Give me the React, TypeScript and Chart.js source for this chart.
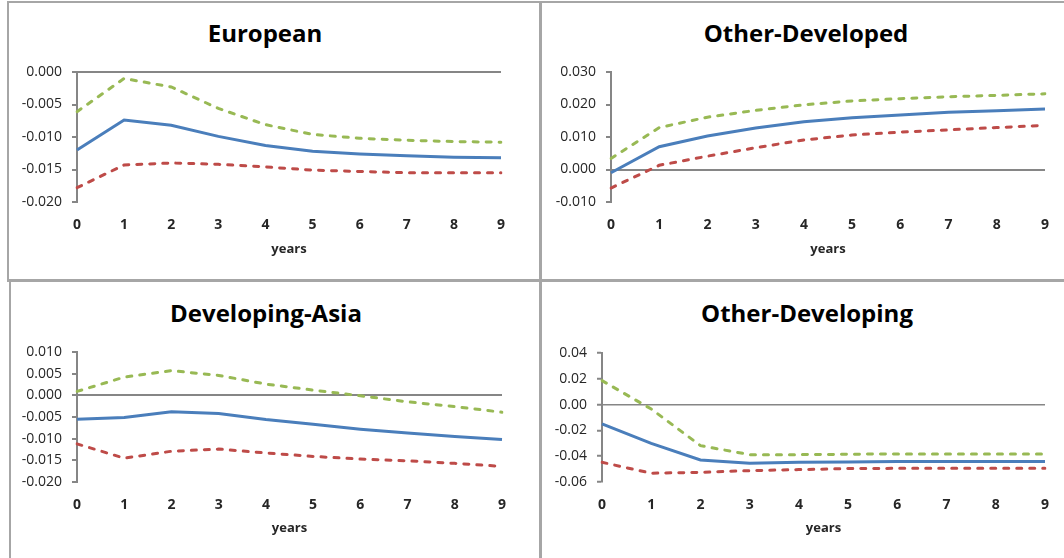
import React, { useEffect, useRef } from "react";
import { Chart, registerables } from "chart.js";

Chart.register(...registerables);

// ---------- data ----------
const years = ["0", "1", "2", "3", "4", "5", "6", "7", "8", "9"];

const europeanMean = [-0.012, -0.0074, -0.0082, -0.0099, -0.0113, -0.0122, -0.0126, -0.0129, -0.0131, -0.0132];
const europeanUpper = [-0.0061, -0.001, -0.0023, -0.0056, -0.0081, -0.0096, -0.0102, -0.0105, -0.0107, -0.0108];
const europeanLower = [-0.0178, -0.0143, -0.014, -0.0142, -0.0146, -0.0151, -0.0153, -0.0155, -0.0155, -0.0155];
const europeanTicks = [-0.02, -0.015, -0.01, -0.005, 0];

const otherDevelopedMean = [-0.001, 0.007, 0.0103, 0.0128, 0.0147, 0.0159, 0.0168, 0.0176, 0.0181, 0.0186];
const otherDevelopedUpper = [0.0034, 0.0129, 0.0161, 0.0182, 0.0199, 0.0211, 0.0218, 0.0224, 0.0228, 0.0233];
const otherDevelopedLower = [-0.0057, 0.0013, 0.0041, 0.0067, 0.0091, 0.0106, 0.0115, 0.0122, 0.0129, 0.0136];
const otherDevelopedTicks = [-0.01, 0, 0.01, 0.02, 0.03];

const developingAsiaMean = [-0.0055, -0.0051, -0.0038, -0.0042, -0.0056, -0.0067, -0.0078, -0.0087, -0.0095, -0.0102];
const developingAsiaUpper = [0.0009, 0.0042, 0.0057, 0.0046, 0.0026, 0.0012, -0.0001, -0.0015, -0.0026, -0.0039];
const developingAsiaLower = [-0.0112, -0.0145, -0.0129, -0.0124, -0.0133, -0.0141, -0.0147, -0.0151, -0.0157, -0.0164];
const developingAsiaTicks = [-0.02, -0.015, -0.01, -0.005, 0, 0.005, 0.01];

const otherDevelopingMean = [-0.015, -0.03, -0.0429, -0.0455, -0.0447, -0.0444, -0.0442, -0.0442, -0.0442, -0.0442];
const otherDevelopingUpper = [0.0186, -0.0034, -0.0318, -0.0388, -0.0388, -0.0385, -0.0382, -0.0382, -0.0382, -0.0382];
const otherDevelopingLower = [-0.0447, -0.0532, -0.0525, -0.0512, -0.0504, -0.0496, -0.0494, -0.0494, -0.0494, -0.0494];
const otherDevelopingTicks = [-0.06, -0.04, -0.02, 0, 0.02, 0.04];

// ---------- styles ----------
const BLUE = "#4A7EBB";
const RED = "#BE4B48";
const GREEN = "#98B954";
const AXIS = "#868686";
const TEXT = "#262626";
const FONT = "'Open Sans', 'Liberation Sans', sans-serif";

type PanelProps = {
  title: string;
  mean: number[];
  upper: number[];
  lower: number[];
  ticks: number[];
  decimals: number;
  left: number;
  top: number;
  width: number;
  height: number;
  padTop: number;
  padR: number;
  yWidth: number;
  xHeight: number;
  xTitleBottom: number;
  zeroWidth: number;
  titleCenter: number;
  titleBaseline: number;
};

function Panel(p: PanelProps) {
  const ref = useRef<HTMLCanvasElement | null>(null);

  useEffect(() => {
    if (!ref.current) return;
    const dashed = {
      borderWidth: 3,
      borderDash: [5, 8],
      borderCapStyle: "round" as const,
      pointRadius: 0,
      tension: 0,
      fill: false,
    };
    const chart = new Chart(ref.current, {
      type: "line",
      data: {
        labels: years,
        datasets: [
          { label: "lower", data: p.lower, borderColor: RED, ...dashed },
          { label: "upper", data: p.upper, borderColor: GREEN, ...dashed },
          {
            label: "mean",
            data: p.mean,
            borderColor: BLUE,
            borderWidth: 3,
            pointRadius: 0,
            tension: 0,
            fill: false,
          },
        ],
      },
      options: {
        responsive: false,
        animation: false,
        layout: { padding: { left: 0, right: p.padR, top: p.padTop, bottom: 0 } },
        plugins: {
          legend: { display: false },
          tooltip: { enabled: false },
          title: { display: false },
        },
        scales: {
          x: {
            type: "category",
            offset: false,
            grid: { display: false, drawTicks: false },
            border: { display: false },
            ticks: {
              padding: 15,
              color: TEXT,
              autoSkip: false,
              maxRotation: 0,
              font: { family: FONT, size: 14, weight: "bold", lineHeight: 1.2 },
            },
            title: {
              display: true,
              text: "years",
              color: TEXT,
              font: { family: FONT, size: 13, weight: "bold", lineHeight: 1.2 },
              padding: { top: 0, bottom: p.xTitleBottom },
            },
            afterFit: (s: any) => {
              s.height = p.xHeight;
            },
          },
          y: {
            min: p.ticks[0],
            max: p.ticks[p.ticks.length - 1],
            afterBuildTicks: (s: any) => {
              s.ticks = p.ticks.map((v) => ({ value: v }));
            },
            ticks: {
              padding: 10,
              color: TEXT,
              font: { family: FONT, size: 14, lineHeight: 1.2 },
              callback: (v: any) => {
                const n = Number(v);
                return (Math.abs(n) < 1e-12 ? 0 : n).toFixed(p.decimals);
              },
            },
            grid: {
              color: (ctx: any) =>
                ctx.tick && Math.abs(ctx.tick.value) < 1e-12 ? AXIS : "rgba(0,0,0,0)",
              lineWidth: p.zeroWidth,
              tickColor: AXIS,
              tickLength: 5,
              tickWidth: 2,
            },
            border: { display: true, color: AXIS, width: 2 },
            afterFit: (s: any) => {
              s.width = p.yWidth;
            },
          },
        },
      },
    });
    return () => chart.destroy();
  }, []);

  return (
    <>
      <div
        style={{
          position: "absolute",
          left: p.titleCenter - 200,
          top: p.titleBaseline - 23.7,
          width: 400,
          textAlign: "center",
          fontFamily: FONT,
          fontWeight: "bold",
          fontSize: 24,
          lineHeight: "28.8px",
          color: "#000",
          whiteSpace: "nowrap",
        }}
      >
        {p.title}
      </div>
      <canvas
        ref={ref}
        width={p.width}
        height={p.height}
        style={{
          position: "absolute",
          left: p.left,
          top: p.top,
          width: p.width,
          height: p.height,
          display: "block",
        }}
      />
    </>
  );
}

const frame = (left: number, top: number, width: number, height: number): React.CSSProperties => ({
  position: "absolute",
  left,
  top,
  width,
  height,
  border: "2px solid #A6A6A6",
  boxSizing: "border-box",
});

export default function App() {
  return (
    <div
      style={{
        position: "fixed",
        left: 0,
        top: 0,
        width: 1064,
        height: 558,
        overflow: "hidden",
        background: "#fff",
      }}
    >
      <div style={frame(7, 1, 535, 281)} />
      <div style={frame(539, 1, 540, 281)} />
      <div style={frame(9, 279, 533, 300)} />
      <div style={frame(539, 279, 540, 300)} />

      <Panel
        title="European"
        mean={europeanMean}
        upper={europeanUpper}
        lower={europeanLower}
        ticks={europeanTicks}
        decimals={3}
        left={8}
        top={2}
        width={532}
        height={278}
        padTop={70}
        padR={39}
        yWidth={69}
        xHeight={78}
        xTitleBottom={23.2}
        zeroWidth={2}
        titleCenter={265}
        titleBaseline={43}
      />
      <Panel
        title="Other-Developed"
        mean={otherDevelopedMean}
        upper={otherDevelopedUpper}
        lower={otherDevelopedLower}
        ticks={otherDevelopedTicks}
        decimals={3}
        left={540}
        top={2}
        width={524}
        height={278}
        padTop={70}
        padR={16}
        yWidth={71}
        xHeight={78}
        xTitleBottom={23.2}
        zeroWidth={2}
        titleCenter={806}
        titleBaseline={43}
      />
      <Panel
        title="Developing-Asia"
        mean={developingAsiaMean}
        upper={developingAsiaUpper}
        lower={developingAsiaLower}
        ticks={developingAsiaTicks}
        decimals={3}
        left={8}
        top={280}
        width={532}
        height={278}
        padTop={72}
        padR={38}
        yWidth={69}
        xHeight={76}
        xTitleBottom={22.2}
        zeroWidth={2}
        titleCenter={266}
        titleBaseline={323}
      />
      <Panel
        title="Other-Developing"
        mean={otherDevelopingMean}
        upper={otherDevelopingUpper}
        lower={otherDevelopingLower}
        ticks={otherDevelopingTicks}
        decimals={2}
        left={540}
        top={280}
        width={524}
        height={278}
        padTop={73}
        padR={16}
        yWidth={62}
        xHeight={76}
        xTitleBottom={22.2}
        zeroWidth={1.5}
        titleCenter={807}
        titleBaseline={323}
      />
    </div>
  );
}
